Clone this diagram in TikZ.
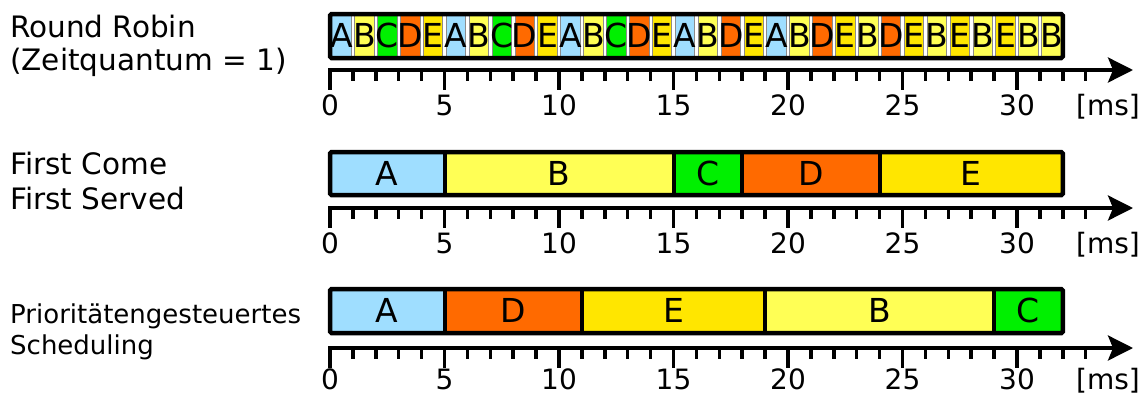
\documentclass[tikz,border=0pt]{standalone}
\usepackage{fontspec}
\setmainfont{DejaVu Sans}
\usetikzlibrary{arrows.meta}
\definecolor{cA}{HTML}{9FDEFF}
\definecolor{cB}{HTML}{FFFF55}
\definecolor{cC}{HTML}{00F000}
\definecolor{cD}{HTML}{FF6A00}
\definecolor{cE}{HTML}{FFE600}
\newcommand\tu{22.9}
\newcommand\timeaxis[3]{%
  \coordinate (#2s) at (328,#1);
  \coordinate (#2e) at (1133,#1);
  \draw[axisline] (#2s) -- (#2e);
  \foreach \t in {0,...,33}{%
    \pgfmathtruncatemacro\m{mod(\t,5)}%
    \ifnum\m=0
      \draw[tick] ({330+\t*\tu},#1) -- ({330+\t*\tu},{#1+20});
      \ifnum\t<31
        \node[axlbl] (#2l\t) at ({330+\t*\tu},{#1+#3}) {\t};
      \fi
    \else
      \draw[tick] ({330+\t*\tu},#1) -- ({330+\t*\tu},{#1+11});
    \fi
  }
  \node[axlbl] (#2ms) at (1108,{#1+#3}) {[ms]};
}
\begin{document}
\begin{tikzpicture}[x=1pt,y=-1pt,
  axisline/.style={line width=3.5pt,-{Stealth[length=25pt,width=25pt,inset=5pt]}},
  tick/.style={line width=3.5pt},
  frame/.style={line width=4.5pt,rounded corners=1.5pt},
  seg/.style={line width=4pt},
  axlbl/.style={font=\fontsize{28}{28}\selectfont,anchor=base,inner sep=0pt},
  bartext/.style={font=\fontsize{33}{33}\selectfont,anchor=base,inner sep=0pt},
  side/.style={anchor=base west,inner sep=0pt,font=\fontsize{29.5}{29.5}\selectfont},
  sidesmall/.style={anchor=base west,inner sep=0pt,font=\fontsize{26}{26}\selectfont},
  slot/.style={draw=black!45,line width=0.7pt},
]
\useasboundingbox (0,0) rectangle (1148,394);

% side labels
\node[side] (rr1) at (10,37) {Round Robin};
\node[side] (rr2) at (10,70) {(Zeitquantum = 1)};
\node[side] (fc1) at (10,174) {First Come};
\node[side] (fc2) at (10,209) {First Served};
\node[sidesmall] (pr1) at (10,323) {Prioritätengesteuertes};
\node[sidesmall] (pr2) at (10,354) {Scheduling};

% Round robin bar
\fill[white] (330,14) rectangle ({330+32*\tu},58);
\foreach \l [count=\i from 0] in {A,B,C,D,E,A,B,C,D,E,A,B,C,D,E,A,B,D,E,A,B,D,E,B,D,E,B,E,B,E,B,B}{%
  \path[fill=c\l,slot] ({330+\i*\tu+1.7},15.5) rectangle ({330+(\i+1)*\tu-1.7},56.5);
  \node[bartext] (rrs\i) at ({330+(\i+0.5)*\tu},47) {\l};
}
\draw[frame] (330,14) rectangle ({330+32*\tu},58);
\timeaxis{70}{ax1}{45}

% FCFS bar
\foreach \a/\b/\l in {0/5/A,5/15/B,15/18/C,18/24/D,24/32/E}{%
  \fill[c\l] ({330+\a*\tu},152) rectangle ({330+\b*\tu},195);
  \node[bartext] (fc\l) at ({330+(\a+\b)/2*\tu},185.5) {\l};
}
\foreach \b in {5,15,18,24}{\draw[seg] ({330+\b*\tu},152) -- ({330+\b*\tu},195);}
\draw[frame] (330,152) rectangle ({330+32*\tu},195);
\timeaxis{208}{ax2}{45}

% Priority bar
\foreach \a/\b/\l in {0/5/A,5/11/D,11/19/E,19/29/B,29/32/C}{%
  \fill[c\l] ({330+\a*\tu},289) rectangle ({330+\b*\tu},333);
  \node[bartext] (pr\l) at ({330+(\a+\b)/2*\tu},322.5) {\l};
}
\foreach \b in {5,11,19,29}{\draw[seg] ({330+\b*\tu},289) -- ({330+\b*\tu},333);}
\draw[frame] (330,289) rectangle ({330+32*\tu},333);
\timeaxis{348}{ax3}{41}
\end{tikzpicture}
\end{document}
